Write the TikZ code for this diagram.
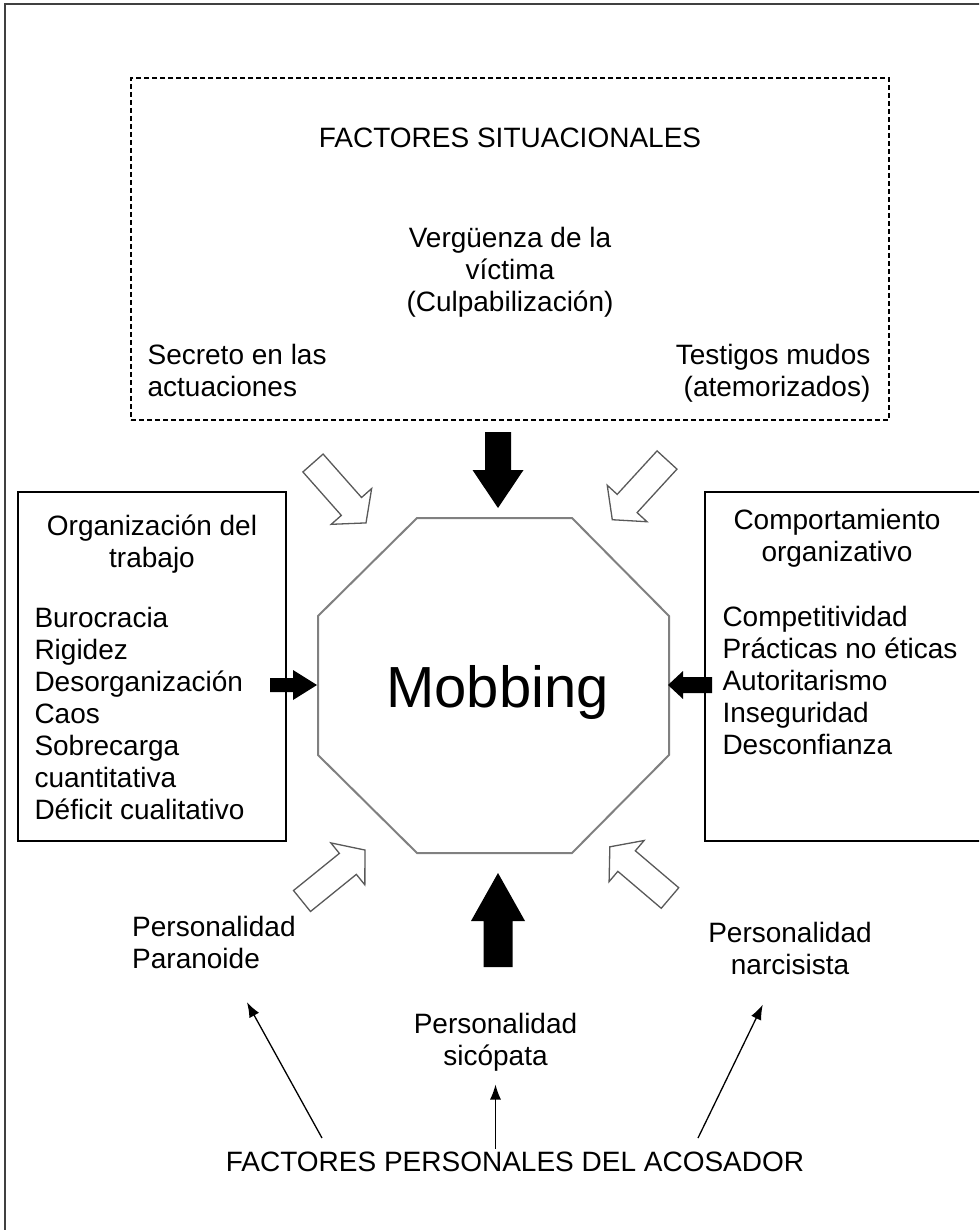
\documentclass[tikz,border=0pt]{standalone}
\usepackage{fontspec}
\setmainfont{Liberation Sans}
\usetikzlibrary{arrows.meta,positioning}

\tikzset{
  caja/.style={draw=black, line width=1.4pt, rectangle, inner sep=0pt},
  punteada/.style={caja, dash pattern=on 5pt off 3pt, line width=1.2pt},
  texto/.style={font=\fontsize{28}{32}\selectfont, inner sep=0pt},
  octogono/.style={draw=black!50, line width=2pt, line join=miter},
  negra/.style={fill=black},
  hueca/.style={draw=black!65, fill=white, line width=1.3pt, line join=miter},
  flechita/.style={-{Latex[length=15pt,width=11pt]}, line width=1.3pt},
}

% flecha de bloque: estilo, cola, angulo, largo, medio cuerpo, media cabeza, largo cabeza
\newcommand{\bloque}[7]{%
  \begin{scope}[shift={#2}, rotate=#3]
    \path[#1] (0,-#5) -- ({#4-#7},-#5) -- ({#4-#7},-#6) -- (#4,0)
      -- ({#4-#7},#6) -- ({#4-#7},#5) -- (0,#5) -- cycle;
  \end{scope}}

\begin{document}
\begin{tikzpicture}[x=1pt,y=-1pt]
  \useasboundingbox (0,0) rectangle (979,1230);
  \clip (0,0) rectangle (979,1230);
  % marco exterior
  \draw[draw=black!75, line width=2pt] (5,4) rectangle (1000,1260);

  % factores situacionales
  \node[punteada, minimum width=758pt, minimum height=342pt] (situacionales) at (510,249) {};
  \node[texto, below=50pt of situacionales.north] (titulosit) {FACTORES SITUACIONALES};
  \node[texto, align=center, below=150pt of situacionales.north] (verguenza) {Vergüenza de la\\víctima\\(Culpabilización)};
  \node[texto, align=left, below right=267pt and 17pt of situacionales.north west] (secreto) {Secreto en las\\actuaciones};
  \node[texto, align=right, below left=267pt and 19pt of situacionales.north east] (testigos) {Testigos mudos\\(atemorizados)};

  % organizacion del trabajo
  \node[caja, minimum width=268pt, minimum height=349pt] (organizacion) at (152,666.5) {};
  \node[texto, align=center, below=23pt of organizacion.north] (orgtit) {Organización del\\trabajo};
  \node[texto, align=left, below right=116pt and 17pt of organizacion.north west] (orglista)
    {Burocracia\\Rigidez\\Desorganización\\Caos\\Sobrecarga\\cuantitativa\\Déficit cualitativo};

  % comportamiento organizativo
  \node[caja, minimum width=290pt, minimum height=349pt] (comportamiento) at (850,666.5) {};
  \node[texto, align=center, below right=18pt and 29pt of comportamiento.north west] (comptit) {Comportamiento\\organizativo};
  \node[texto, align=left, below right=115pt and 18pt of comportamiento.north west] (complista)
    {Competitividad\\Prácticas no éticas\\Autoritarismo\\Inseguridad\\Desconfianza};

  % centro
  \draw[octogono] (417,518) -- (572,518) -- (669,616) -- (669,755) -- (572,853)
    -- (417,853) -- (318,755) -- (318,616) -- cycle;
  \node[font=\fontsize{58}{60}\selectfont, inner sep=0pt] (mob) at (497.5,692) {Mobbing};

  % flechas negras
  \bloque{negra}{(498,432)}{-90}{76}{13}{25.5}{38}
  \bloque{negra}{(498,967)}{90}{94}{14.5}{27}{48}
  \bloque{negra}{(270,685)}{0}{47}{7}{15}{24}
  \bloque{negra}{(712,685)}{180}{44}{8}{14}{15}
  % flechas huecas
  \bloque{hueca}{(313,463)}{-48.5}{80}{13.5}{27}{22}
  \bloque{hueca}{(667,460)}{-132.5}{81}{13.5}{27}{22}
  \bloque{hueca}{(302,901)}{39}{81}{13.5}{27}{22}
  \bloque{hueca}{(670,898)}{139.6}{79}{13.5}{27}{22}

  % factores personales
  \node[texto, align=left, anchor=north west] (paranoide) at (132,916) {Personalidad\\Paranoide};
  \node[texto, align=center, anchor=north] (narcisista) at (790,922) {Personalidad\\narcisista};
  \node[texto, align=center, anchor=north] (sicopata) at (495.5,1013) {Personalidad\\sicópata};
  \node[texto] (acosador) at (515,1162) {FACTORES PERSONALES DEL ACOSADOR};

  \coordinate (colaP) at (322,1138);
  \coordinate (colaN) at (698,1138);
  \draw[flechita, shorten >=38pt] (colaP) -- (paranoide);
  \draw[flechita, shorten >=33pt] (colaN) -- (narcisista);
  \draw[flechita, shorten <=3pt, shorten >=13pt] (acosador.north -| sicopata.south) -- (sicopata.south);
\end{tikzpicture}
\end{document}
